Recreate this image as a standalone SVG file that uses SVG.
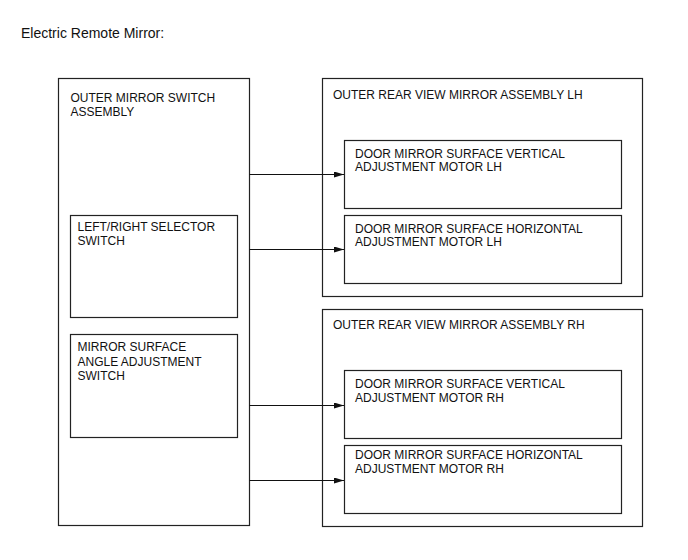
<svg xmlns="http://www.w3.org/2000/svg" width="688" height="560" viewBox="0 0 688 560">
<defs>
<marker id="arr" markerWidth="10" markerHeight="6" refX="10" refY="3" orient="auto" markerUnits="userSpaceOnUse">
<path d="M0,0 L10,3 L0,6 Z" fill="#111"/>
</marker>
<style>
.box{fill:#fff;stroke:#222;stroke-width:1.2}
.t{font-family:"Liberation Sans",Arial,sans-serif;font-size:12px;fill:#111}
.title{font-family:"Liberation Sans",Arial,sans-serif;font-size:14px;fill:#111}
.con{stroke:#111;stroke-width:1;fill:none;marker-end:url(#arr)}
</style>
</defs>
<rect width="688" height="560" fill="#fff"/>
<text class="title" x="21" y="38">Electric Remote Mirror:</text>

<g id="switch-assembly">
<rect class="box" x="58.5" y="78.5" width="191" height="447"/>
<text class="t" x="70.5" y="102">OUTER MIRROR SWITCH</text>
<text class="t" x="70.5" y="115.5">ASSEMBLY</text>
</g>
<g id="selector-switch">
<rect class="box" x="70.5" y="215.5" width="167" height="102"/>
<text class="t" x="77.5" y="230.5">LEFT/RIGHT SELECTOR</text>
<text class="t" x="77.5" y="244.5">SWITCH</text>
</g>
<g id="angle-switch">
<rect class="box" x="70.5" y="334.5" width="167" height="103"/>
<text class="t" x="77.5" y="351">MIRROR SURFACE</text>
<text class="t" x="77.5" y="365.5">ANGLE ADJUSTMENT</text>
<text class="t" x="77.5" y="379.5">SWITCH</text>
</g>

<g id="mirror-lh">
<rect class="box" x="322.5" y="78.5" width="320" height="218"/>
<text class="t" x="333" y="99">OUTER REAR VIEW MIRROR ASSEMBLY LH</text>
</g>
<g id="vert-motor-lh">
<rect class="box" x="344.5" y="140.5" width="277" height="68"/>
<text class="t" x="355" y="157.5">DOOR MIRROR SURFACE VERTICAL</text>
<text class="t" x="355" y="171">ADJUSTMENT MOTOR LH</text>
</g>
<g id="horiz-motor-lh">
<rect class="box" x="344.5" y="215.5" width="277" height="68"/>
<text class="t" x="355" y="232.5">DOOR MIRROR SURFACE HORIZONTAL</text>
<text class="t" x="355" y="246">ADJUSTMENT MOTOR LH</text>
</g>

<g id="mirror-rh">
<rect class="box" x="322.5" y="309.5" width="320" height="217"/>
<text class="t" x="333" y="329">OUTER REAR VIEW MIRROR ASSEMBLY RH</text>
</g>
<g id="vert-motor-rh">
<rect class="box" x="344.5" y="370.5" width="277" height="68"/>
<text class="t" x="355" y="388">DOOR MIRROR SURFACE VERTICAL</text>
<text class="t" x="355" y="401.5">ADJUSTMENT MOTOR RH</text>
</g>
<g id="horiz-motor-rh">
<rect class="box" x="344.5" y="445.5" width="277" height="68"/>
<text class="t" x="355" y="459">DOOR MIRROR SURFACE HORIZONTAL</text>
<text class="t" x="355" y="472.5">ADJUSTMENT MOTOR RH</text>
</g>

<g id="connectors">
<line class="con" x1="249.5" y1="174.5" x2="344" y2="174.5"/>
<line class="con" x1="249.5" y1="249.5" x2="344" y2="249.5"/>
<line class="con" x1="249.5" y1="405.5" x2="344" y2="405.5"/>
<line class="con" x1="249.5" y1="480.5" x2="344" y2="480.5"/>
</g>
</svg>
